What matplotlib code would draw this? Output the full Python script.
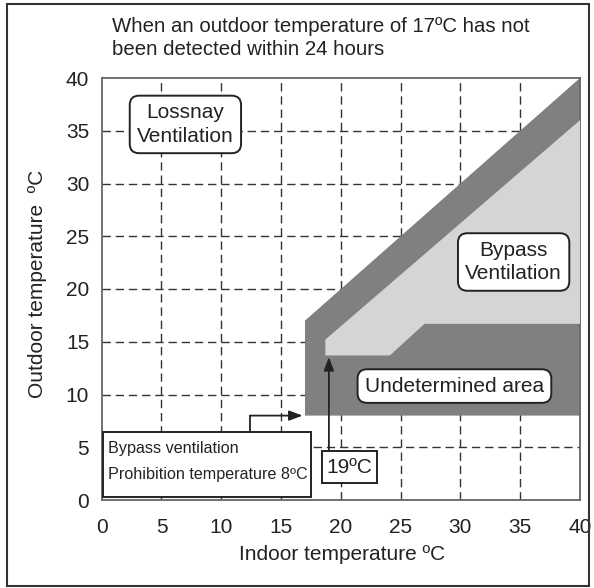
import matplotlib
matplotlib.use("Agg")
import matplotlib.pyplot as plt
from matplotlib.patches import Polygon, Rectangle

plt.rcParams['font.family'] = ['Liberation Sans', 'DejaVu Sans']

W, H = 594, 588

# Axis ticks
x_ticks = [0, 5, 10, 15, 20, 25, 30, 35, 40]
y_ticks = [0, 5, 10, 15, 20, 25, 30, 35, 40]

# Operating regions (indoor temp, outdoor temp)
undetermined_x = [17, 17, 40, 40]
undetermined_y = [8, 17, 40, 8]
bypass_x = [18.7, 18.7, 40, 40, 27.0, 24.1]
bypass_y = [13.7, 15.2, 36.0, 16.7, 16.7, 13.7]

prohibition_temp = 8
switch_indoor = 19

dark = '#808083'
light = '#d4d5d7'
ink = '#222222'
fs = 15

fig = plt.figure(figsize=(W / 100, H / 100), dpi=100)
ax = fig.add_axes([101.7 / W, 1 - 500 / H, (580 - 101.7) / W, (500 - 78) / H])
ax.set_xlim(0, 40)
ax.set_ylim(0, 40)

# dashed grid underneath the regions
for v in x_ticks[1:-1]:
    ax.plot([v, v], [0, 40], color='#333333', lw=1.0, ls=(0, (6, 3.5)), zorder=1)
for v in y_ticks[1:-1]:
    ax.plot([0, 40], [v, v], color='#333333', lw=1.0, ls=(0, (6, 3.5)), zorder=1)

ax.add_patch(Polygon(list(zip(undetermined_x, undetermined_y)), closed=True,
                     facecolor=dark, edgecolor='none', zorder=2))
ax.add_patch(Polygon(list(zip(bypass_x, bypass_y)), closed=True,
                     facecolor=light, edgecolor='none', zorder=3))

ax.set_xticks(x_ticks)
ax.set_yticks(y_ticks)
ax.tick_params(length=0, labelsize=fs, colors=ink)
ax.tick_params(axis='x', pad=13)
ax.tick_params(axis='y', pad=9)
for s in ax.spines.values():
    s.set_color('#666666')
    s.set_linewidth(1.3)

rb = dict(boxstyle='round,pad=0.35,rounding_size=0.45', facecolor='white',
          edgecolor=ink, linewidth=1.4)
ax.text(7.0, 35.6, 'Lossnay\nVentilation', ha='center', va='center',
        fontsize=fs, color=ink, bbox=rb, zorder=6, linespacing=1.33)
ax.text(34.45, 22.56, 'Bypass\nVentilation', ha='center', va='center',
        fontsize=fs, color=ink, bbox=rb, zorder=6, linespacing=1.33)
ax.text(29.5, 10.8, 'Undetermined area', ha='center', va='center',
        fontsize=fs, color=ink, bbox=rb, zorder=6)

arrow = dict(arrowstyle='-|>,head_length=0.8,head_width=0.3',
             color=ink, lw=1.3, shrinkA=0, shrinkB=0)

# prohibition temperature note
ax.add_patch(Rectangle((0.1, 0.28), 17.4, 6.17, facecolor='white',
                       edgecolor=ink, lw=1.4, zorder=6))
ax.text(0.5, 3.65, 'Bypass ventilation\nProhibition temperature 8ºC',
        ha='left', va='center', fontsize=11.6, color=ink, zorder=7,
        linespacing=1.9)
ax.plot([12.4, 12.4], [6.45, prohibition_temp], color=ink, lw=1.3, zorder=7)
ax.annotate('', xy=(16.8, prohibition_temp), xytext=(12.4, prohibition_temp),
            arrowprops=arrow, zorder=7)

# switching indoor temperature
ax.add_patch(Rectangle((18.4, 1.64), 4.6, 3.01, facecolor='white',
                       edgecolor=ink, lw=1.4, zorder=6))
ax.text(20.7, 3.1, '19ºC', ha='center', va='center', fontsize=fs,
        color=ink, zorder=7)
ax.annotate('', xy=(switch_indoor, 13.55), xytext=(switch_indoor, 4.65),
            arrowprops=arrow, zorder=7)

fig.text(112 / W, 1 - 38 / H,
         'When an outdoor temperature of 17ºC has not\nbeen detected within 24 hours',
         ha='left', va='center', fontsize=14.7, color=ink, linespacing=1.3)
fig.text(342 / W, 1 - 555 / H, 'Indoor temperature ºC', ha='center', va='center',
         fontsize=fs, color=ink)
fig.text(38 / W, 1 - 284 / H, 'Outdoor temperature  ºC', ha='center', va='center',
         rotation=90, fontsize=fs, color=ink)

# outer frame
fig.add_artist(Rectangle((7 / W, 1 - 586 / H), 582 / W, 582 / H,
                         transform=fig.transFigure, fill=False,
                         edgecolor='#333333', lw=1.5))

fig.savefig('out.png', dpi=100)
